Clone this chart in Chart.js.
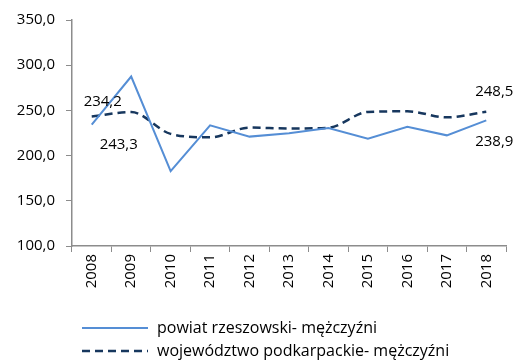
<!DOCTYPE html>
<html>
<head>
<meta charset="utf-8">
<script src="https://cdn.jsdelivr.net/npm/chart.js@4/dist/chart.umd.min.js"></script>
<style>
  html, body { margin: 0; padding: 0; background: #fff; }
  #wrap { width: 516px; height: 363px; position: relative; }
</style>
</head>
<body>
<div id="wrap"><canvas id="wykres"></canvas></div>
<script>
const lata = ['2008', '2009', '2010', '2011', '2012', '2013', '2014', '2015', '2016', '2017', '2018'];
const powiat = [234.2, 287.5, 182.7, 233.4, 221.0, 224.6, 230.5, 218.8, 232.0, 222.4, 238.9];
const wojewodztwo = [243.3, 248.2, 224.0, 220.2, 231.0, 230.0, 230.8, 248.3, 249.0, 242.3, 248.5];
const nazwy = ['powiat rzeszowski- mężczyźni', 'województwo podkarpackie- mężczyźni'];
// etykiety wartości: [seria, indeks punktu, przesunięcie x, przesunięcie y]
const etykiety = [
    [0, 0, 11, -23],
    [1, 0, 27, 28],
    [1, 10, 8, -20],
    [0, 10, 8, 21]
];

const czcionka = "'Open Sans', sans-serif";
const osKolor = '#8c8c8c';

function format(v) {
    return v.toFixed(1).replace('.', ',');
}

// wartości przy punktach
const podpisy = {
    id: 'podpisy',
    afterDatasetsDraw(chart) {
        const ctx = chart.ctx;
        ctx.save();
        ctx.font = '15px ' + czcionka;
        ctx.fillStyle = '#000';
        ctx.textAlign = 'center';
        ctx.textBaseline = 'middle';
        etykiety.forEach(function (e) {
            const p = chart.getDatasetMeta(e[0]).data[e[1]];
            const v = chart.data.datasets[e[0]].data[e[1]];
            ctx.fillText(format(v), p.x + e[2], p.y + e[3]);
        });
        ctx.restore();
    }
};

// legenda w dwóch wierszach pod osią
const legenda = {
    id: 'legenda',
    afterDraw(chart) {
        const ctx = chart.ctx;
        ctx.save();
        ctx.font = '16px ' + czcionka;
        ctx.textBaseline = 'middle';
        ctx.fillStyle = '#000';
        chart.data.datasets.forEach(function (ds, i) {
            const y = 328 + i * 23;
            ctx.beginPath();
            ctx.strokeStyle = ds.borderColor;
            ctx.lineWidth = ds.borderWidth;
            ctx.setLineDash(ds.borderDash || []);
            ctx.moveTo(82, y);
            ctx.lineTo(148, y);
            ctx.stroke();
            ctx.setLineDash([]);
            ctx.fillText(ds.label, 157, y);
        });
        ctx.restore();
    }
};

new Chart(document.getElementById('wykres'), {
    type: 'line',
    data: {
        labels: lata,
        datasets: [{
            label: nazwy[0],
            data: powiat,
            borderColor: '#558ed5',
            borderWidth: 2,
            tension: 0,
            pointRadius: 0
        }, {
            label: nazwy[1],
            data: wojewodztwo,
            borderColor: '#17375e',
            borderWidth: 2.5,
            borderDash: [8, 5],
            cubicInterpolationMode: 'monotone',
            pointRadius: 0
        }]
    },
    options: {
        responsive: true,
        maintainAspectRatio: false,
        animation: false,
        layout: { padding: { top: 19, right: 10, left: 0, bottom: 0 } },
        plugins: {
            legend: { display: false },
            tooltip: { enabled: false }
        },
        scales: {
            x: {
                offset: true,
                grid: { display: true, offset: true, drawOnChartArea: false, drawTicks: true, tickLength: 6, color: osKolor },
                border: { color: osKolor, width: 1.5 },
                ticks: {
                    minRotation: 90, maxRotation: 90, padding: 2,
                    color: '#000', font: { family: czcionka, size: 15 }
                },
                afterFit(scale) { scale.height = 117; }
            },
            y: {
                min: 100,
                max: 350,
                grid: { display: true, drawOnChartArea: false, drawTicks: true, tickLength: 6, color: osKolor },
                border: { color: osKolor, width: 1.5 },
                ticks: {
                    stepSize: 50, padding: 11,
                    color: '#000', font: { family: czcionka, size: 15 },
                    callback: function (v) { return format(v); }
                },
                afterFit(scale) { scale.width = 72; }
            }
        }
    },
    plugins: [podpisy, legenda]
});
</script>
</body>
</html>
